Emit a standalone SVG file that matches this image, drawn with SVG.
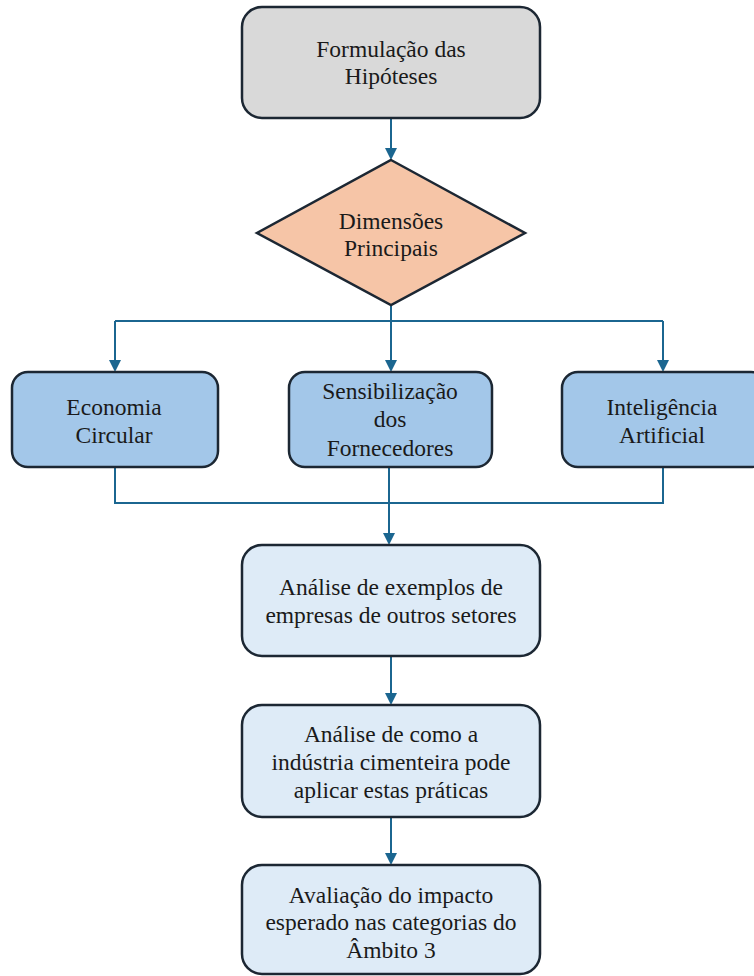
<svg xmlns="http://www.w3.org/2000/svg" width="754" height="976" viewBox="0 0 754 976">
<style>
.n{stroke:#1c2733;stroke-width:2.5}
.g{fill:#d9d9d9}.o{fill:#f6c5a7}.b{fill:#a3c7e9}.l{fill:#deebf7}
.t{font-family:'Liberation Serif','Times New Roman',serif;font-size:23.5px;fill:#1a1a1a;text-anchor:middle}
.c{fill:none;stroke:#1b6690;stroke-width:2}
</style>
<defs>
<marker id="ah" markerUnits="userSpaceOnUse" markerWidth="12" markerHeight="12" refX="10" refY="6" orient="auto">
<path d="M0,0 L12,6 L0,12 Z" fill="#1b6690"/>
</marker>
</defs>
<rect width="754" height="976" fill="#ffffff"/>
<g id="connectors">
<path class="c" d="M391,119 V158" marker-end="url(#ah)"/>
<path class="c" d="M391,305 V321"/>
<path class="c" d="M115,321 H663"/>
<path class="c" d="M115,321 V370" marker-end="url(#ah)"/>
<path class="c" d="M391,321 V370" marker-end="url(#ah)"/>
<path class="c" d="M663,321 V370" marker-end="url(#ah)"/>
<path class="c" d="M115,467 V503 H663 V467"/>
<path class="c" d="M389,467 V543" marker-end="url(#ah)"/>
<path class="c" d="M391,657 V703" marker-end="url(#ah)"/>
<path class="c" d="M391,818 V863" marker-end="url(#ah)"/>
</g>
<g id="formulacao">
<rect class="n g" x="242" y="7" width="298" height="111" rx="20"/>
<text class="t" x="391" y="57">Formulação das</text>
<text class="t" x="391" y="84">Hipóteses</text>
</g>
<g id="dimensoes">
<polygon class="n o" points="391,160 525,233 391,305 257,233"/>
<text class="t" x="391" y="229">Dimensões</text>
<text class="t" x="391" y="256">Principais</text>
</g>
<g id="economia">
<rect class="n b" x="12" y="372" width="206" height="95" rx="16"/>
<text class="t" x="114" y="415">Economia</text>
<text class="t" x="114" y="443">Circular</text>
</g>
<g id="sensibilizacao">
<rect class="n b" x="289" y="372" width="203" height="95" rx="16"/>
<text class="t" x="390" y="399">Sensibilização</text>
<text class="t" x="390" y="427">dos</text>
<text class="t" x="390" y="456">Fornecedores</text>
</g>
<g id="inteligencia">
<rect class="n b" x="562" y="372" width="205" height="95" rx="16"/>
<text class="t" x="662" y="415">Inteligência</text>
<text class="t" x="662" y="443">Artificial</text>
</g>
<g id="analise-exemplos">
<rect class="n l" x="242" y="545" width="298" height="111" rx="20"/>
<text class="t" x="391" y="595">Análise de exemplos de</text>
<text class="t" x="391" y="623">empresas de outros setores</text>
</g>
<g id="analise-industria">
<rect class="n l" x="242" y="705" width="298" height="112" rx="20"/>
<text class="t" x="391" y="742">Análise de como a</text>
<text class="t" x="391" y="770">indústria cimenteira pode</text>
<text class="t" x="391" y="798">aplicar estas práticas</text>
</g>
<g id="avaliacao">
<rect class="n l" x="242" y="865" width="298" height="109" rx="20"/>
<text class="t" x="391" y="903">Avaliação do impacto</text>
<text class="t" x="391" y="930">esperado nas categorias do</text>
<text class="t" x="391" y="958">Âmbito 3</text>
</g>
</svg>
